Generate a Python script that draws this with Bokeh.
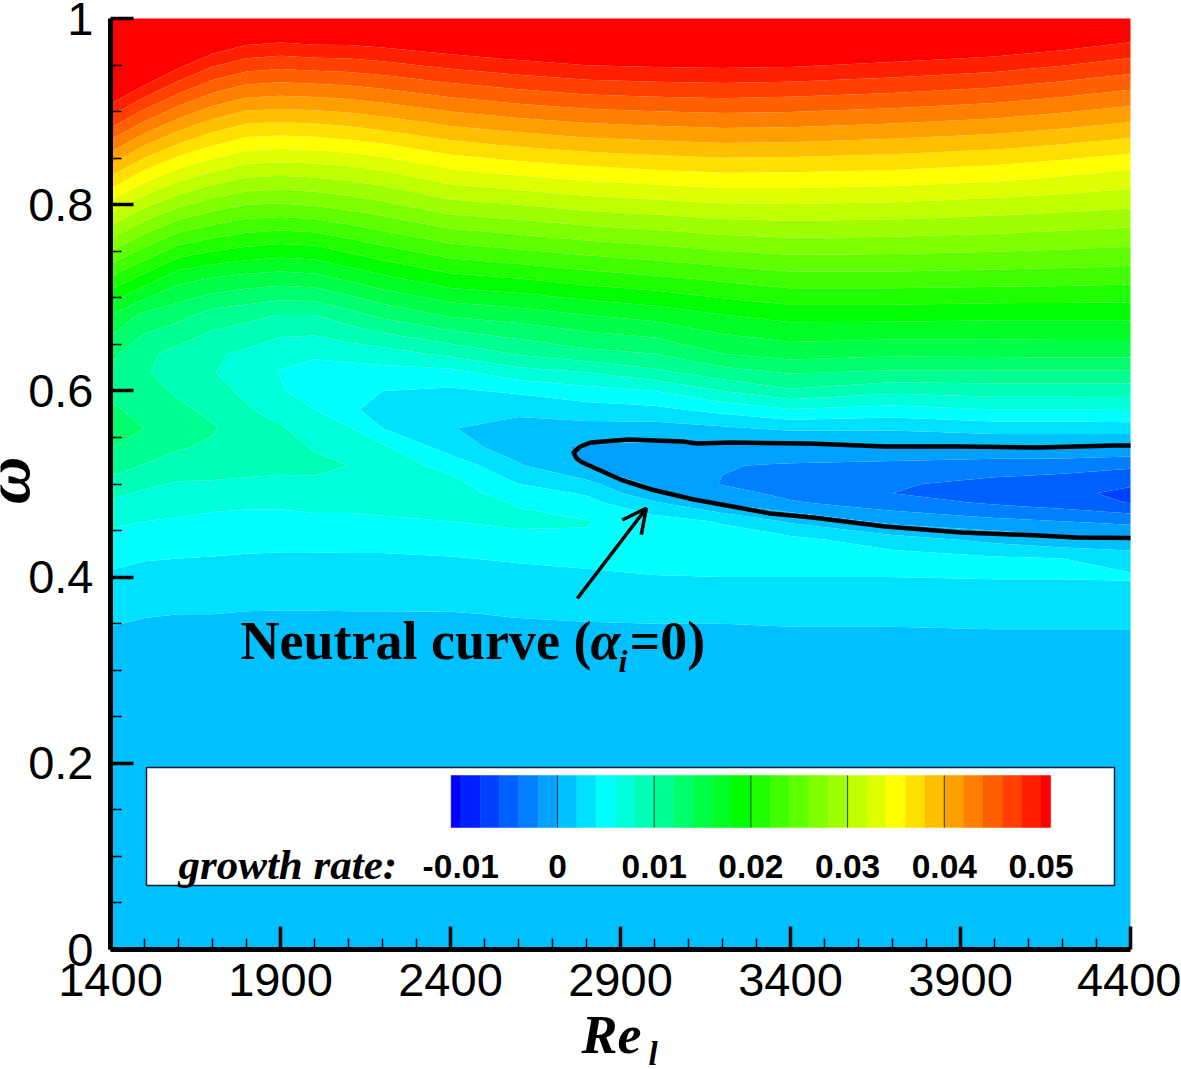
import math
import numpy as np
from bokeh.plotting import figure
from bokeh.embed import file_html
from bokeh.resources import INLINE
from bokeh.models import Label, Arrow, OpenHead, FixedTicker
from bokeh.core.properties import field

# ---- data ----
re_cols = [1400, 1500, 1600, 1700, 1800, 1900, 2000, 2100, 2200, 2400, 2600, 2800, 3000, 3200, 3400, 3700, 4000, 4200, 4400]
omega_rows = [1.00, .96, .92, .88, .84, .80, .76, .72, .68, .64, .62, .60, .58, .56, .54, .52, .50, .49, .48,
              .46, .44, .42, .40, .38, .36, .34, .32, .20, .00]
growth = [
 [.064,.061,.058,.0553,.054,.0536,.054,.054,.0543,.055,.0558,.0565,.0566,.0566,.0564,.0556,.055,.054,.053],
 [.058,.0549,.052,.0497,.0484,.048,.0483,.0484,.0488,.0498,.0506,.0513,.0515,.0516,.0515,.0508,.0501,.0493,.0483],
 [.0518,.0487,.0461,.044,.0427,.0424,.0426,.0429,.0434,.0446,.0455,.0462,.0465,.0467,.0465,.046,.0453,.0445,.0436],
 [.0456,.0425,.0401,.0383,.037,.0368,.037,.0374,.038,.0394,.0403,.041,.0414,.0417,.0416,.0411,.0405,.0398,.039],
 [.0394,.0364,.0342,.0327,.0315,.0312,.0314,.0318,.0324,.0342,.0351,.0358,.0363,.0367,.0366,.0363,.0357,.035,.0342],
 [.0333,.0305,.0284,.027,.026,.0258,.0262,.0268,.0275,.0293,.03,.0308,.0313,.0318,.0319,.0317,.0312,.0308,.0304],
 [.0274,.0248,.0225,.0214,.0207,.0203,.0205,.0215,.0225,.0242,.025,.0258,.0264,.0271,.0275,.0274,.0271,.0268,.0265],
 [.0216,.0191,.0166,.0158,.0152,.0149,.0152,.0163,.0174,.0192,.0199,.0208,.0215,.0223,.0231,.0231,.0229,.0228,.0226],
 [.0158,.0133,.0125,.011,.0105,.0098,.0098,.011,.0123,.0141,.0148,.0158,.0166,.0178,.0186,.0186,.0184,.0184,.0184],
 [.0125,.0105,.0093,.0083,.0076,.0066,.0063,.0067,.0071,.0085,.0102,.0114,.012,.014,.0148,.0144,.0145,.0146,.0146],
 [.0117,.0102,.0091,.0081,.0072,.0059,.0053,.0052,.0053,.0054,.0072,.008,.0095,.0112,.0122,.0117,.0117,.0117,.0117],
 [.0116,.0107,.0097,.0087,.0076,.0062,.005,.0042,.004,.0037,.0043,.0053,.006,.008,.0097,.0085,.0089,.0089,.0089],
 [.0123,.0114,.0104,.0095,.0082,.0072,.006,.0043,.0034,.0025,.0026,.0031,.0035,.0047,.0059,.0053,.006,.006,.0061],
 [.0135,.012,.011,.0102,.0089,.0082,.0069,.0062,.004,.0021,.0011,.0013,.0012,.0017,.0024,.0023,.0029,.0029,.003],
 [.0121,.0112,.0102,.0097,.0095,.0089,.0078,.0072,.0063,.003,.0009,-.0003,-.0004,-.0006,-.0004,0,0,0,-.0002],
 [.0108,.0099,.0091,.0088,.0087,.0086,.0085,.008,.0071,.0053,.0022,-.0001,-.0012,-.0019,-.0022,-.0026,-.0031,-.0032,-.0036],
 [.0094,.0084,.0078,.0078,.0076,.0074,.0076,.0076,.0077,.0067,.004,.0026,-.0005,-.0021,-.0027,-.0038,-.0045,-.005,-.0058],
 [.0085,.0077,.0073,.0071,.0069,.0069,.0071,.0071,.0073,.007,.0049,.0038,.0004,-.0013,-.0025,-.004,-.0049,-.0056,-.0064],
 [.0077,.0071,.0068,.0064,.0063,.0063,.0065,.0065,.0067,.007,.0058,.0046,.0022,-.0003,-.0018,-.0031,-.0043,-.005,-.0061],
 [.0064,.006,.0058,.0056,.0055,.0055,.0056,.0056,.0057,.006,.0065,.0061,.0049,.0038,.0017,-.0006,-.0015,-.002,-.0025],
 [.0054,.0052,.005,.0048,.0046,.0046,.0046,.0047,.0047,.0049,.0053,.0058,.0056,.005,.0046,.0029,.0015,.0006,.0001],
 [.0045,.0041,.004,.0039,.0038,.0037,.0037,.0037,.0037,.0039,.0042,.0045,.0048,.0049,.0051,.0049,.0043,.004,.0034],
 [.0037,.0034,.0032,.0031,.0031,.003,.003,.003,.0031,.0032,.0034,.0036,.0039,.004,.004,.004,.0041,.0041,.0042],
 [.0031,.0028,.0026,.0025,.0025,.0024,.0024,.0025,.0025,.0026,.0027,.0029,.003,.0031,.0031,.0032,.0032,.0032,.0032],
 [.0024,.0021,.002,.002,.0019,.0019,.0019,.0019,.0019,.0019,.0021,.0022,.0023,.0023,.0024,.0024,.0024,.0024,.0024],
 [.0018,.0016,.0015,.0015,.0014,.0014,.0014,.0014,.0015,.0015,.0016,.0017,.0017,.0017,.0018,.0018,.0019,.0019,.0019],
 [.0014,.0013,.0013,.0012,.0012,.0012,.0012,.0012,.0012,.0012,.0013,.0014,.0014,.0014,.0015,.0015,.0015,.0015,.0015],
 [.0012,.0012,.0012,.0012,.0012,.0012,.0012,.0012,.0012,.0012,.0012,.0012,.0012,.0012,.0012,.0012,.0012,.0012,.0012],
 [.0011,.0011,.0011,.0011,.0011,.0011,.0011,.0011,.0011,.0011,.0011,.0011,.0011,.0011,.0011,.0011,.0011,.0011,.0011],
]
neutral_re = [4400, 4356, 4129, 3903, 3679, 3453, 3229, 3126, 3082, 2924, 2812, 2782, 2762, 2771, 2788, 2900, 2991,
              3115, 3229, 3341, 3465, 3679, 3903, 4129, 4241, 4400]
neutral_omega = [.5414, .5414, .5392, .5403, .5403, .5435, .5446, .5435, .5457, .5478, .5446, .5403, .5338, .5274,
                 .5231, .5048, .4941, .4834, .4758, .4683, .464, .4544, .4479, .4447, .4425, .442]
arrow_re = [2773, 2976]
arrow_omega = [.377, .474]
x_ticks = [1400, 1900, 2400, 2900, 3400, 3900, 4400]
x_minor = [r for r in range(1400, 4401, 100)]
y_ticks = [0, .2, .4, .6, .8, 1]
y_minor = [round(i * .05, 2) for i in range(21)]
y_labels = {0: "0", .2: "0.2", .4: "0.4", .6: "0.6", .8: "0.8", 1: "1"}
levels = [round(-.012 + .002 * i, 3) for i in range(32)] + [.07]
bar_edges = [-.011] + levels[1:-1] + [.051]
bar_ticks = [0, .01, .02, .03, .04]
bar_labels = ["-0.01", "0", "0.01", "0.02", "0.03", "0.04", "0.05"]
bar_label_values = [-.01, 0, .01, .02, .03, .04, .05]

# ---- colours ----
def band_colour(mid):
    def ramp(a, b):
        return int(round(255 * min(1, max(0, (mid - a) / (b - a)))))
    if mid <= .005:
        return "#%02x%02x%02x" % (0, min(255, max(0, int(round((mid + .011) / .002 * 32)))), 255)
    if mid <= .019:
        return "#%02x%02x%02x" % (0, 255, 255 - ramp(.005, .019))
    if mid <= .035:
        return "#%02x%02x%02x" % (ramp(.019, .035), 255, 0)
    return "#%02x%02x%02x" % (255, 255 - ramp(.035, .051), 0)

palette = [band_colour((levels[i] + levels[i + 1]) / 2) if levels[i + 1] < .06 else "#ff0000"
           for i in range(len(levels) - 1)]
palette[0] = "#0000ff"

# ---- page pixel -> data helpers for annotations ----
def rx(px):
    return 1400 + (px - 110) / 0.34
def wy(py):
    return (949 - py) / 931
def bar_x(v):
    return rx(557 + v * 9670)

# the frame fills the whole page, so that the outer labels are not clipped; the axes sit at fixed locations
p = figure(width=1181, height=1069, output_backend="svg", toolbar_location=None,
           x_range=(rx(0), rx(1181)), y_range=(wy(1069), wy(0)),
           min_border_left=0, min_border_right=0, min_border_top=0, min_border_bottom=0,
           margin=(0, 0, 0, 0), background_fill_color="white", border_fill_color="white")
p.outline_line_color = None
p.grid.visible = False

z = np.array(growth)[::-1]
cr = p.contour(np.array(re_cols, dtype=float), np.array(omega_rows)[::-1], z, levels, fill_color=palette)
cr.fill_renderer.data_source.data["band_col"] = list(palette)
cr.fill_renderer.glyph.line_color = field("band_col")
cr.fill_renderer.glyph.line_width = 0.8

# neutral curve and arrow
p.line(neutral_re, neutral_omega, line_color="black", line_width=4.5, line_join="round")
p.add_layout(Arrow(end=OpenHead(size=24, line_width=3.5, line_color="black"),
                   x_start=arrow_re[0], y_start=arrow_omega[0], x_end=arrow_re[1], y_end=arrow_omega[1],
                   line_color="black", line_width=3.5))

# legend box
p.quad(left=[rx(146)], right=[rx(1114)], bottom=[wy(885)], top=[wy(767)],
       fill_color="white", line_color="#102030", line_width=1.5)
for i, c in enumerate(palette[:len(bar_edges) - 1]):
    p.quad(left=[bar_x(bar_edges[i])], right=[bar_x(bar_edges[i + 1])], bottom=[wy(827)], top=[wy(775)],
           fill_color=c, line_color=c, line_width=0.5)
for v in bar_ticks:
    p.segment(x0=[bar_x(v)], x1=[bar_x(v)], y0=[wy(827)], y1=[wy(775)], line_color="#204030", line_width=1)

def text(s, px, py, size, font="Liberation Serif", style="bold", align="left", angle=0):
    p.add_layout(Label(x=rx(px), y=wy(py), text=s, text_font=font, text_font_size=f"{size}px",
                       text_font_style=style, text_align=align, text_baseline="middle",
                       text_color="black", angle=angle))

for s, v in zip(bar_labels, bar_label_values):
    text(s, 557 + v * 9670, 866, 33.5, font="Liberation Sans", align="center")
text("growth rate:", 178, 864, 43, style="bold italic")

text("Neutral curve (", 240, 640, 54)
text("\u03b1", 590, 640, 54, style="bold italic")
text("i", 618, 660, 32, style="bold italic")
text("=0)", 629, 640, 54)

text("Re", 581, 1034, 54, style="bold italic")
text("l", 648, 1053, 33, style="bold italic")
text("\u03c9", 6, 480, 66, style="bold italic", align="center", angle=math.pi / 2)

# axes
xa = p.xaxis[0]
xa.fixed_location = 0
xa.bounds = (1400, 4400)
xa.ticker = FixedTicker(ticks=x_ticks, minor_ticks=x_minor)
xa.axis_line_width = 5
xa.major_tick_in = 23
xa.major_tick_out = 0
xa.minor_tick_in = 11
xa.minor_tick_out = 0
xa.major_tick_line_width = 3.5
xa.minor_tick_line_width = 1.5
xa.major_label_text_font = "Liberation Sans"
xa.major_label_text_font_size = "47px"
xa.major_label_text_color = "black"
xa.major_label_standoff = 14

ya = p.yaxis[0]
ya.fixed_location = 1400
ya.bounds = (0, 1)
ya.ticker = FixedTicker(ticks=y_ticks, minor_ticks=y_minor)
ya.axis_line_width = 5
ya.major_tick_in = 23
ya.major_tick_out = 0
ya.minor_tick_in = 11
ya.minor_tick_out = 0
ya.major_tick_line_width = 3.5
ya.minor_tick_line_width = 1.5
ya.major_label_overrides = y_labels
ya.major_label_text_font = "Liberation Sans"
ya.major_label_text_font_size = "47px"
ya.major_label_text_color = "black"
ya.major_label_standoff = 17

open("out.html", "w").write(file_html(p, INLINE))
